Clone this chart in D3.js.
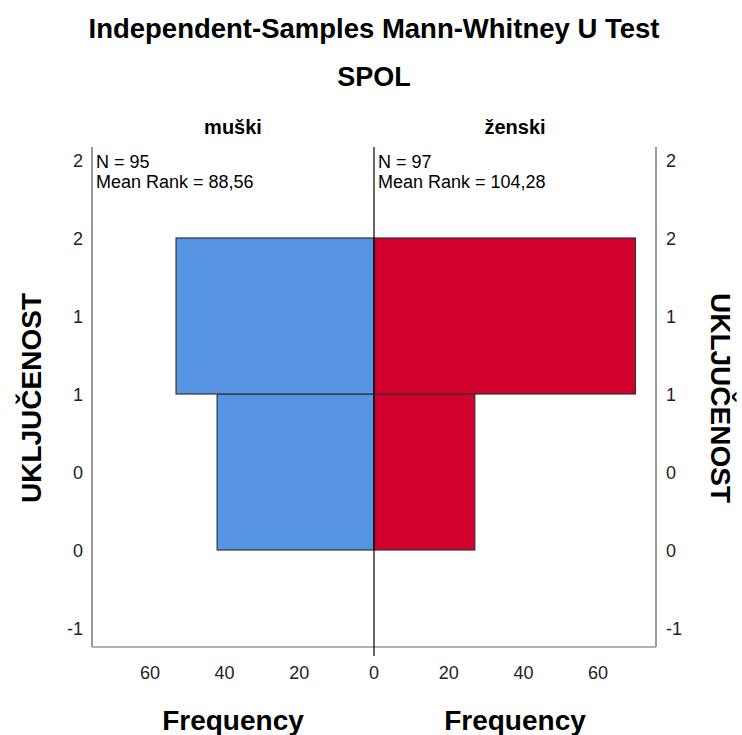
<!DOCTYPE html>
<html><head><meta charset="utf-8">
<script src="https://cdn.jsdelivr.net/npm/d3@7"></script>
<style>body{margin:0;background:#fff}svg{font-family:"Liberation Sans",Arial,sans-serif}</style>
</head><body><svg id="c" width="742" height="735"></svg>
<script>
const title = "Independent-Samples Mann-Whitney U Test";
const subtitle = "SPOL";
const groups = ["muški", "ženski"];
const groupN = [95, 97];
const meanRanks = ["88,56", "104,28"];
const binCenters = [0, 1];
const maleFreq = [42, 53];
const femaleFreq = [27, 70];
const yTicks = [-1, -0.5, 0, 0.5, 1, 1.5, 2];
const xTicks = [0, 20, 40, 60];
const yLabel = "UKLJUČENOST";
const xLabel = "Frequency";

(function () {
const svg = d3.select("#c");
const pL = 92, pM = 374, pR = 656, pT = 147, pB = 647;
const y = d3.scaleLinear().domain([-1, 2]).range([628, 160]);
const xL = d3.scaleLinear().domain([0, 75.5]).range([pM, pL]);
const xR = d3.scaleLinear().domain([0, 75.5]).range([pM, pR]);
const fmtY = v => String(Math.floor(v + 0.5));

svg.append("text").attr("x", 374).attr("y", 38).attr("text-anchor", "middle")
  .attr("font-size", 27.5).attr("font-weight", "bold").text(title);
svg.append("text").attr("x", 374).attr("y", 86).attr("text-anchor", "middle")
  .attr("font-size", 27).attr("font-weight", "bold").text(subtitle);
svg.append("text").attr("x", (pL + pM) / 2).attr("y", 134).attr("text-anchor", "middle")
  .attr("font-size", 20).attr("font-weight", "bold").text(groups[0]);
svg.append("text").attr("x", (pM + pR) / 2).attr("y", 134).attr("text-anchor", "middle")
  .attr("font-size", 20).attr("font-weight", "bold").text(groups[1]);

const bw = 1;
svg.append("g").selectAll("rect").data(binCenters).join("rect")
  .attr("x", (d, i) => xL(maleFreq[i])).attr("width", (d, i) => pM - xL(maleFreq[i]))
  .attr("y", d => y(d + bw / 2)).attr("height", d => y(d - bw / 2) - y(d + bw / 2))
  .attr("fill", "#5794E2").attr("stroke", "#333").attr("stroke-width", 1.2);
svg.append("g").selectAll("rect").data(binCenters).join("rect")
  .attr("x", pM).attr("width", (d, i) => xR(femaleFreq[i]) - pM)
  .attr("y", d => y(d + bw / 2)).attr("height", d => y(d - bw / 2) - y(d + bw / 2))
  .attr("fill", "#D2002D").attr("stroke", "#333").attr("stroke-width", 1.2);

svg.append("line").attr("x1", pL).attr("x2", pL).attr("y1", pT).attr("y2", pB).attr("stroke", "#555").attr("stroke-width", 1.2);
svg.append("line").attr("x1", pR).attr("x2", pR).attr("y1", pT).attr("y2", pB).attr("stroke", "#555").attr("stroke-width", 1.2);
svg.append("line").attr("x1", pL).attr("x2", pR).attr("y1", pB).attr("y2", pB).attr("stroke", "#999").attr("stroke-width", 1.5);
svg.append("line").attr("x1", pM).attr("x2", pM).attr("y1", pT).attr("y2", pB + 9).attr("stroke", "#000").attr("stroke-width", 1.2);

svg.append("g").selectAll("text").data(yTicks).join("text")
  .attr("x", 83).attr("y", d => y(d) + 7).attr("text-anchor", "end").attr("font-size", 18).attr("fill", "#222").text(fmtY);
svg.append("g").selectAll("text").data(yTicks).join("text")
  .attr("x", 666).attr("y", d => y(d) + 7).attr("text-anchor", "start").attr("font-size", 18).attr("fill", "#222").text(fmtY);

svg.append("g").selectAll("text").data(xTicks).join("text")
  .attr("x", d => xL(d)).attr("y", 679).attr("text-anchor", "middle").attr("font-size", 18).attr("fill", "#222").text(d => d);
svg.append("g").selectAll("text").data(xTicks.filter(d => d > 0)).join("text")
  .attr("x", d => xR(d)).attr("y", 679).attr("text-anchor", "middle").attr("font-size", 18).attr("fill", "#222").text(d => d);

[[pL, 0], [pM, 1]].forEach(([x0, i]) => {
  svg.append("text").attr("x", x0 + 4).attr("y", 168).attr("font-size", 18).text("N = " + groupN[i]);
  svg.append("text").attr("x", x0 + 4).attr("y", 188).attr("font-size", 18).text("Mean Rank = " + meanRanks[i]);
});

svg.append("text").attr("x", (pL + pM) / 2).attr("y", 730).attr("text-anchor", "middle")
  .attr("font-size", 28).attr("font-weight", "bold").text(xLabel);
svg.append("text").attr("x", (pM + pR) / 2).attr("y", 730).attr("text-anchor", "middle")
  .attr("font-size", 28).attr("font-weight", "bold").text(xLabel);
svg.append("text").attr("transform", "translate(41,398) rotate(-90)").attr("text-anchor", "middle")
  .attr("font-size", 28).attr("font-weight", "bold").text(yLabel);
svg.append("text").attr("transform", "translate(711,398) rotate(90)").attr("text-anchor", "middle")
  .attr("font-size", 28).attr("font-weight", "bold").text(yLabel);
})();
</script></body></html>
